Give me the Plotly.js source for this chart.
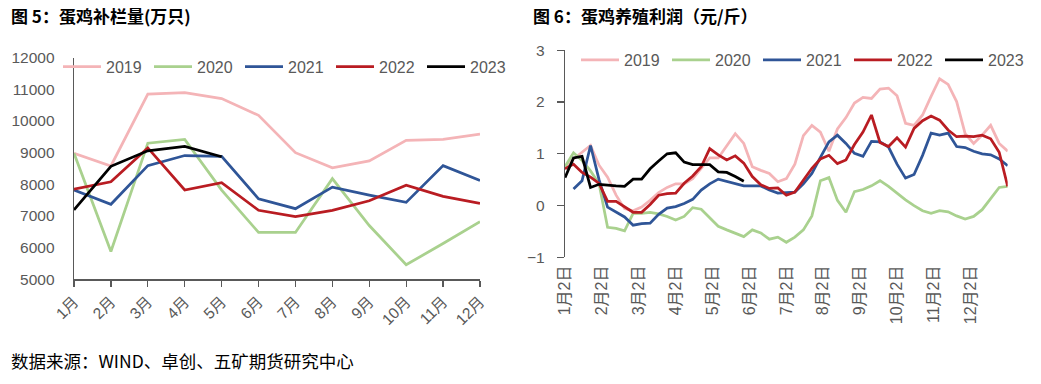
<!DOCTYPE html>
<html>
<head>
<meta charset="utf-8">
<script src="https://cdn.plot.ly/plotly-3.0.1.min.js"></script>
<style>html,body{margin:0;padding:0;background:#fff;}#chart{width:1041px;height:384px;}</style>
</head>
<body>
<div id="chart"></div>
<script>
// ---------- Left chart: 蛋鸡补栏量 (万只), monthly ----------
const months = ["1月","2月","3月","4月","5月","6月","7月","8月","9月","10月","11月","12月"];
const rest2019 = [8980, 8580, 10850, 10900, 10710, 10180, 9000, 8520, 8740, 9390, 9420, 9590];
const rest2020 = [8980, 5880, 9300, 9420, 7820, 6480, 6480, 8180, 6700, 5460, 6130, 6820];
const rest2021 = [7820, 7370, 8590, 8910, 8880, 7540, 7230, 7910, 7660, 7430, 8590, 8120];
const rest2022 = [7850, 8080, 9150, 7820, 8050, 7180, 6980, 7180, 7480, 7970, 7620, 7400];
const rest2023 = [7190, 8570, 9060, 9200, 8870];

// ---------- Right chart: 蛋鸡养殖利润 (元/斤), weekly ----------
const weekLabels = ["1月2日","2月2日","3月2日","4月2日","5月2日","6月2日","7月2日","8月2日","9月2日","10月2日","11月2日","12月2日",""];
const prof2019 = [0.72,0.9,1.03,1.16,0.78,0.55,0.2,-0.06,-0.1,-0.03,0.1,0.25,0.35,0.42,0.42,0.52,0.72,0.92,0.92,1.15,1.39,1.2,0.75,0.68,0.62,0.46,0.52,0.8,1.35,1.55,1.42,1.05,1.48,1.7,1.98,2.09,2.07,2.25,2.27,2.12,1.59,1.55,1.75,2.11,2.45,2.34,2.01,1.39,1.2,1.36,1.55,1.2,1.05];
const prof2020 = [0.75,1.02,0.87,0.67,0.42,-0.42,-0.44,-0.49,-0.15,-0.15,-0.13,-0.16,-0.21,-0.28,-0.21,-0.04,-0.07,-0.24,-0.4,-0.47,-0.53,-0.6,-0.47,-0.53,-0.65,-0.61,-0.71,-0.61,-0.47,-0.2,0.48,0.54,0.1,-0.13,0.27,0.31,0.38,0.48,0.37,0.24,0.11,0.0,-0.1,-0.15,-0.1,-0.12,-0.2,-0.26,-0.21,-0.08,0.14,0.35,0.37];
const prof2021 = [null,0.32,0.48,1.16,0.5,-0.03,-0.12,-0.22,-0.38,-0.35,-0.34,-0.17,-0.05,-0.02,0.04,0.12,0.3,0.42,0.51,0.47,0.42,0.38,0.38,0.38,0.30,0.24,0.25,0.26,0.42,0.62,0.93,1.23,1.36,1.2,1.01,0.95,1.24,1.23,1.13,0.8,0.53,0.6,0.97,1.40,1.36,1.40,1.14,1.12,1.05,1.00,0.98,0.90,0.77];
const prof2022 = [0.71,0.80,0.64,0.55,0.43,0.08,0.08,-0.02,-0.13,-0.13,0.02,0.2,0.23,0.24,0.43,0.57,0.75,1.1,0.98,0.88,0.96,0.82,0.56,0.40,0.33,0.34,0.2,0.26,0.5,0.72,0.9,0.97,0.81,0.88,1.18,1.42,1.75,1.22,1.14,1.31,1.13,1.49,1.64,1.73,1.65,1.46,1.33,1.34,1.33,1.36,1.29,1.03,0.37];
const prof2023 = [0.54,0.92,0.95,0.35,0.41,0.39,0.38,0.37,0.51,0.51,0.71,0.86,1.0,1.02,0.84,0.79,0.79,0.79,0.65,0.64,0.56,0.47];

const years = ["2019","2020","2021","2022","2023"];
const colors = ["#F4B4B7","#A9D18E","#2F5597","#B91C22","#000000"];

const W = 1041, H = 384;
const px = v => v / W;
const py = v => (H - v) / H;

const nWeeks = prof2019.length;
const weekIdx = prof2019.map((_, i) => i);
const lastWeek = nWeeks - 1;
const monthTickVals = weekLabels.map((_, i) => i * lastWeek / 12);

const leftSeries = [rest2019, rest2020, rest2021, rest2022, rest2023];
const rightSeries = [prof2019, prof2020, prof2021, prof2022, prof2023];

const traces = [];
leftSeries.forEach((s, k) => {
  traces.push({
    type: "scatter", mode: "lines", name: years[k],
    x: months.slice(0, s.length), y: s,
    xaxis: "x", yaxis: "y", legend: "legend",
    line: {color: colors[k], width: 2.75}, hoverinfo: "skip", connectgaps: false
  });
});
rightSeries.forEach((s, k) => {
  traces.push({
    type: "scatter", mode: "lines", name: years[k],
    x: weekIdx.slice(0, s.length), y: s,
    xaxis: "x2", yaxis: "y2", legend: "legend2",
    line: {color: colors[k], width: 2.75}, hoverinfo: "skip", connectgaps: false
  });
});

const tickFont = {family: "Liberation Sans, Noto Sans CJK SC, sans-serif", size: 15.5, color: "#595959"};
const axisCol = "#595959";

const layout = {
  width: W, height: H,
  margin: {l: 0, r: 0, t: 0, b: 0, autoexpand: false},
  paper_bgcolor: "#ffffff", plot_bgcolor: "rgba(0,0,0,0)",
  showlegend: true,
  xaxis: {
    domain: [px(74), px(480)], anchor: "y", type: "category",
    categoryorder: "array", categoryarray: months, range: [0, 11],
    showline: true, linecolor: axisCol, linewidth: 1.3,
    ticks: "outside", ticklen: 6, tickcolor: axisCol, tickwidth: 1.3,
    tickangle: -45, tickfont: tickFont, showgrid: false, zeroline: false, fixedrange: true
  },
  yaxis: {
    domain: [py(279.3), py(57.7)], anchor: "x", range: [5000, 12000],
    tick0: 5000, dtick: 1000, tickformat: "d",
    showline: true, linecolor: axisCol, linewidth: 1.3, ticks: "",
    ticklabelstandoff: 15, tickfont: tickFont, showgrid: false, zeroline: false, fixedrange: true
  },
  xaxis2: {
    domain: [px(565), px(1007.7)], anchor: "y2", range: [0, lastWeek],
    tickmode: "array", tickvals: monthTickVals, ticktext: weekLabels,
    tickangle: -90, ticks: "", showline: false, ticklabelstandoff: 4,
    tickfont: {family: "Liberation Sans, Noto Sans CJK SC, sans-serif", size: 16, color: "#595959"},
    showgrid: false, zeroline: false, fixedrange: true
  },
  yaxis2: {
    domain: [py(257.3), py(50.3)], anchor: "x2", range: [-1, 3], dtick: 1, tick0: 0,
    showline: true, linecolor: axisCol, linewidth: 1.3,
    ticks: "outside", ticklen: 7, tickcolor: axisCol, tickwidth: 1.3,
    ticklabelstandoff: 9, tickfont: tickFont, showgrid: false, zeroline: false, fixedrange: true
  },
  xaxis3: {
    overlaying: "x2", anchor: "free", position: py(205.7), range: [0, lastWeek],
    tickmode: "array", tickvals: monthTickVals, showticklabels: false,
    showline: true, linecolor: "#000000", linewidth: 2,
    ticks: "outside", ticklen: 7, tickcolor: "#000000", tickwidth: 1.5,
    showgrid: false, zeroline: false, fixedrange: true
  },
  legend: {
    orientation: "h", x: px(58), xanchor: "left", y: py(66.7), yanchor: "middle",
    entrywidth: 38, entrywidthmode: "pixels", itemwidth: 38,
    font: {family: "Liberation Sans, sans-serif", size: 16, color: "#595959"},
    bgcolor: "rgba(0,0,0,0)", borderwidth: 0, tracegroupgap: 0
  },
  legend2: {
    orientation: "h", x: px(576), xanchor: "left", y: py(60), yanchor: "middle",
    entrywidth: 38, entrywidthmode: "pixels", itemwidth: 38,
    font: {family: "Liberation Sans, sans-serif", size: 16, color: "#595959"},
    bgcolor: "rgba(0,0,0,0)", borderwidth: 0, tracegroupgap: 0
  },
  annotations: [
    {text: "图 5：蛋鸡补栏量(万只)", xref: "paper", yref: "paper", x: px(9), y: py(16),
     xanchor: "left", yanchor: "middle", showarrow: false,
     font: {family: "Noto Sans CJK SC, sans-serif", size: 17, color: "#000000", weight: 700}},
    {text: "图 6：蛋鸡养殖利润（元/斤）", xref: "paper", yref: "paper", x: px(531), y: py(16),
     xanchor: "left", yanchor: "middle", showarrow: false,
     font: {family: "Noto Sans CJK SC, sans-serif", size: 17, color: "#000000", weight: 700}},
    {text: "数据来源：WIND、卓创、五矿期货研究中心", xref: "paper", yref: "paper", x: px(9), y: py(360),
     xanchor: "left", yanchor: "middle", showarrow: false,
     font: {family: "Noto Sans CJK SC, sans-serif", size: 17.5, color: "#000000"}}
  ]
};

Plotly.newPlot("chart", traces, layout, {displayModeBar: false, staticPlot: true});
</script>
</body>
</html>
